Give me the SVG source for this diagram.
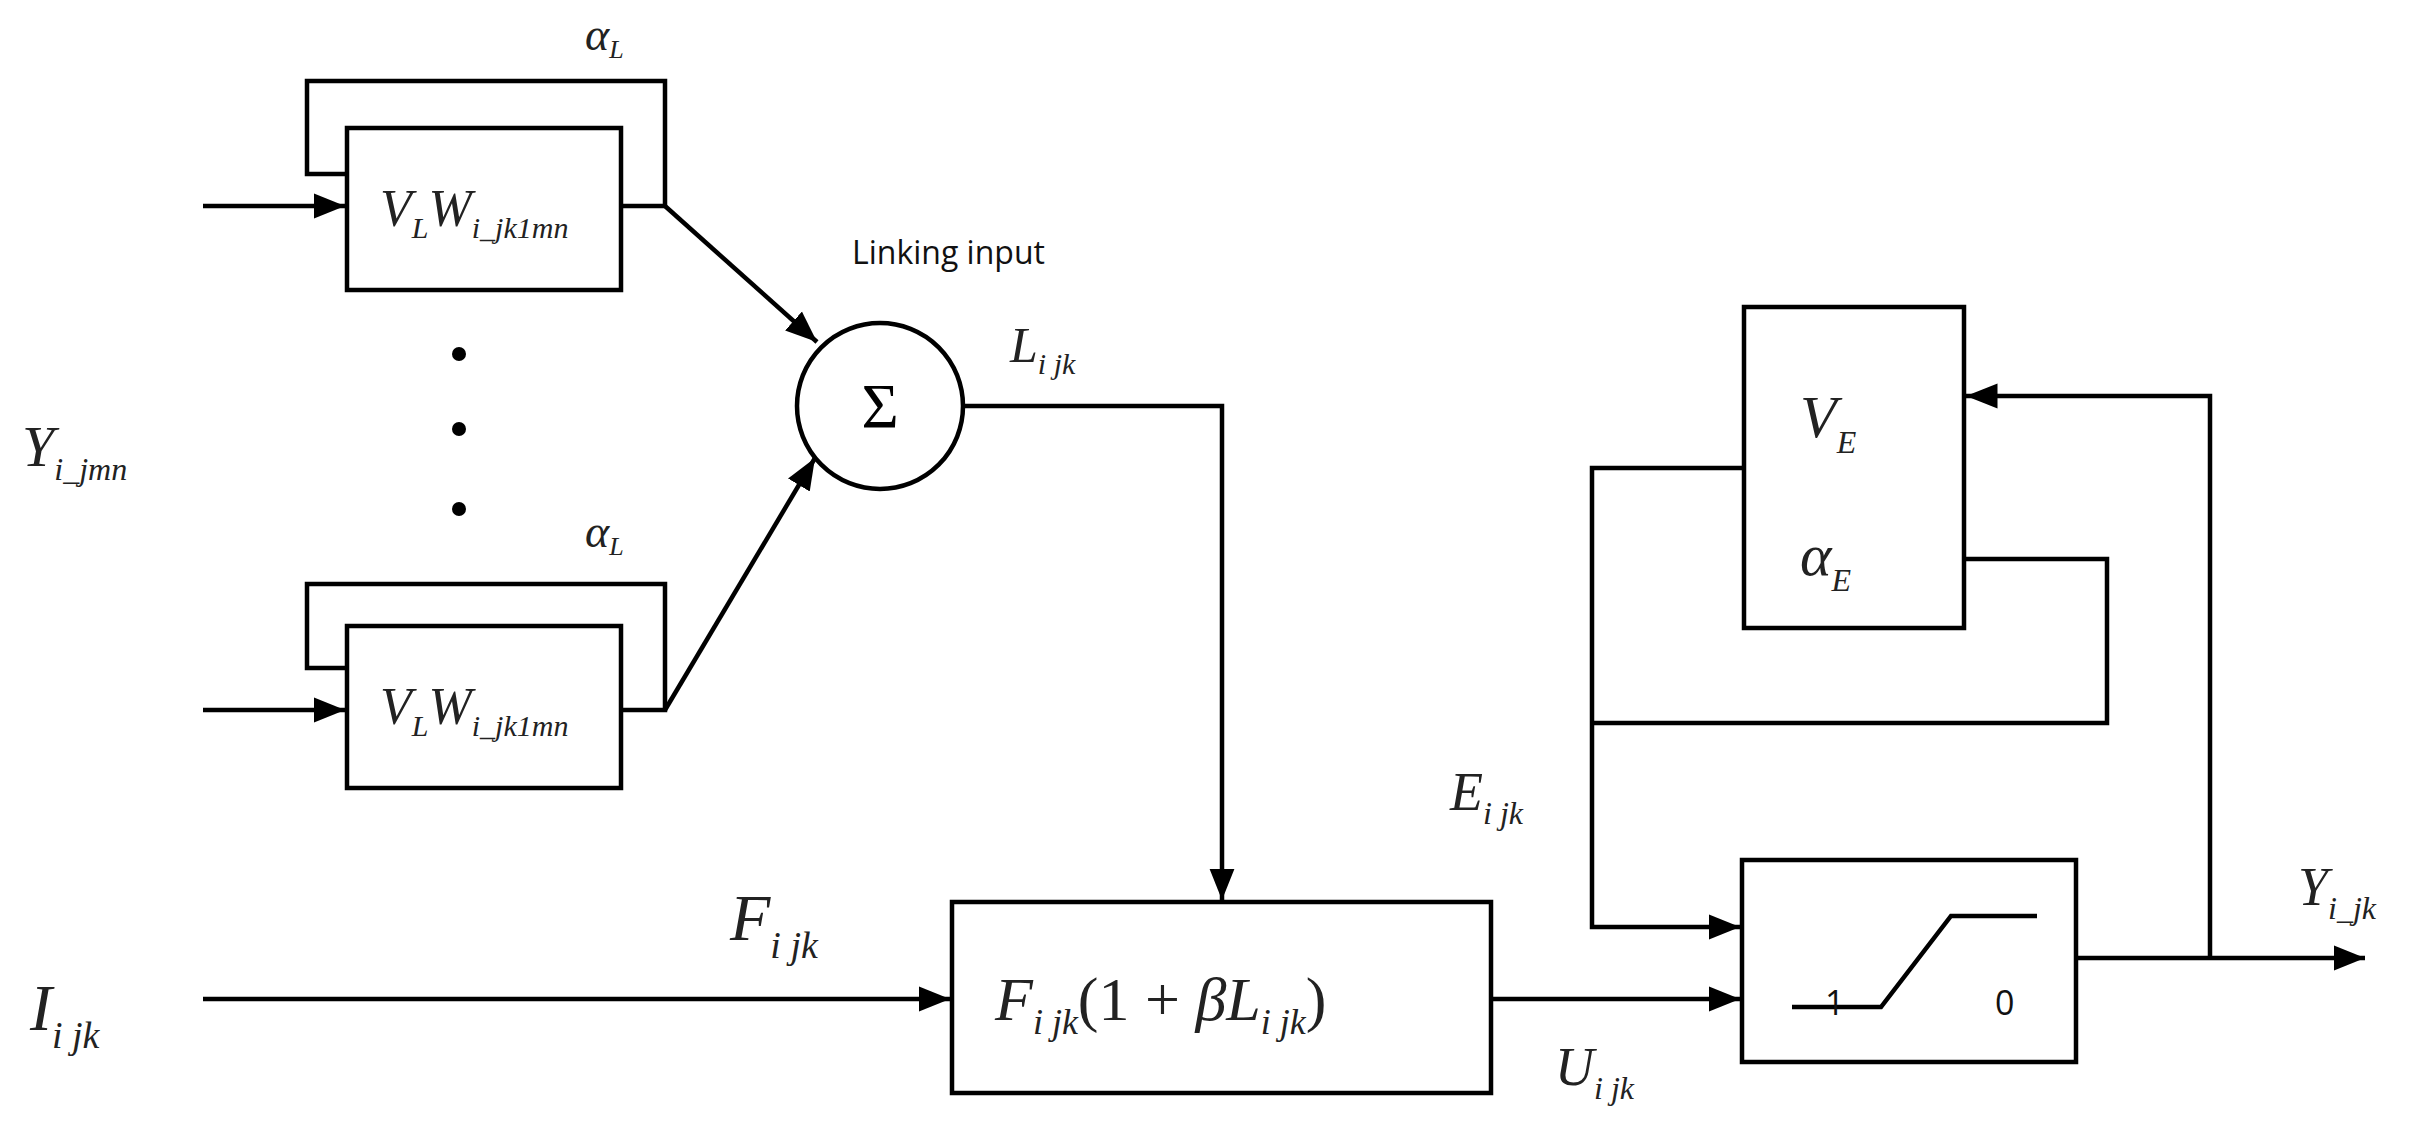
<svg xmlns="http://www.w3.org/2000/svg" width="2421" height="1139" viewBox="0 0 2421 1139">
<style>
.ln{fill:none;stroke:#000;stroke-width:4.5}
.bx{fill:#fff;stroke:#000;stroke-width:4.5}
.m{font-family:"Liberation Serif",serif;font-style:italic;fill:#222}
.s{font-family:"Open Sans","Liberation Sans",sans-serif;fill:#111}
</style>
<defs>
<marker id="a" viewBox="0 0 10 10" refX="10" refY="5" markerWidth="7" markerHeight="7" markerUnits="strokeWidth" orient="auto"><path d="M0,1L10,5L0,9z" fill="#000"/></marker>
</defs>
<rect width="2421" height="1139" fill="#fff"/>
<g id="connectors">
<path class="ln" d="M203,206H345" marker-end="url(#a)"/>
<path class="ln" d="M347,174H307V81H665V206H621"/>
<path class="ln" d="M665,206L817,342" marker-end="url(#a)"/>
<path class="ln" d="M203,710H345" marker-end="url(#a)"/>
<path class="ln" d="M347,668H307V584H665V710H621"/>
<path class="ln" d="M665,710L815,458" marker-end="url(#a)"/>
<path class="ln" d="M963,406H1222V900" marker-end="url(#a)"/>
<path class="ln" d="M203,999H950" marker-end="url(#a)"/>
<path class="ln" d="M1491,999H1740" marker-end="url(#a)"/>
<path class="ln" d="M1744,468H1592V927H1740" marker-end="url(#a)"/>
<path class="ln" d="M1964,559H2107V723H1592"/>
<path class="ln" d="M2076,958H2365" marker-end="url(#a)"/>
<path class="ln" d="M2210,958V396H1966" marker-end="url(#a)"/>
</g>
<g id="w1"><rect class="bx" x="347" y="128" width="274" height="162"/>
<text class="m" x="380" y="226" font-size="52">V<tspan font-size="30" dy="12">L</tspan><tspan dy="-12">W</tspan><tspan font-size="30" dy="12">i_jk1mn</tspan></text></g>
<g id="w2"><rect class="bx" x="347" y="626" width="274" height="162"/>
<text class="m" x="380" y="724" font-size="52">V<tspan font-size="30" dy="12">L</tspan><tspan dy="-12">W</tspan><tspan font-size="30" dy="12">i_jk1mn</tspan></text></g>
<g id="dots"><circle cx="459" cy="354" r="7"/><circle cx="459" cy="429" r="7"/><circle cx="459" cy="509" r="7"/></g>
<text class="m" x="585" y="50" font-size="46">α<tspan font-size="26" dy="8">L</tspan></text>
<text class="m" x="585" y="547" font-size="46">α<tspan font-size="26" dy="8">L</tspan></text>
<g id="sum"><circle class="bx" cx="880" cy="406" r="83"/><text x="880" y="428" font-family="Liberation Serif,serif" font-size="64" text-anchor="middle">Σ</text></g>
<text class="s" x="852" y="264" font-size="32">Linking input</text>
<text class="m" x="1010" y="362" font-size="50">L<tspan font-size="30" dy="12">i jk</tspan></text>
<text class="m" x="22" y="466" font-size="58">Y<tspan font-size="32" dy="14">i_jmn</tspan></text>
<text class="m" x="30" y="1030" font-size="66">I<tspan font-size="38" dy="18">i jk</tspan></text>
<text class="m" x="730" y="940" font-size="66">F<tspan font-size="38" dy="18">i jk</tspan></text>
<g id="f"><rect class="bx" x="952" y="902" width="539" height="191"/>
<text class="m" x="995" y="1020" font-size="62">F<tspan font-size="36" dy="14">i jk</tspan><tspan font-style="normal" dy="-14">(1 + </tspan>βL<tspan font-size="36" dy="14">i jk</tspan><tspan font-style="normal" dy="-14">)</tspan></text></g>
<text class="m" x="1555" y="1085" font-size="54">U<tspan font-size="32" dy="14">i jk</tspan></text>
<g id="e"><rect class="bx" x="1744" y="307" width="220" height="321"/>
<text class="m" x="1800" y="437" font-size="60">V<tspan font-size="32" dy="16">E</tspan></text>
<text class="m" x="1800" y="575" font-size="60">α<tspan font-size="32" dy="16">E</tspan></text></g>
<text class="m" x="1450" y="810" font-size="54">E<tspan font-size="32" dy="14">i jk</tspan></text>
<g id="sw"><rect class="bx" x="1742" y="860" width="334" height="202"/>
<path class="ln" d="M1792,1007H1881L1951,916H2037"/>
<text class="s" x="1825" y="1015" font-size="34">1</text>
<text class="s" x="1995" y="1015" font-size="34">0</text></g>
<text class="m" x="2298" y="905" font-size="54">Y<tspan font-size="32" dy="14">i_jk</tspan></text>
</svg>
